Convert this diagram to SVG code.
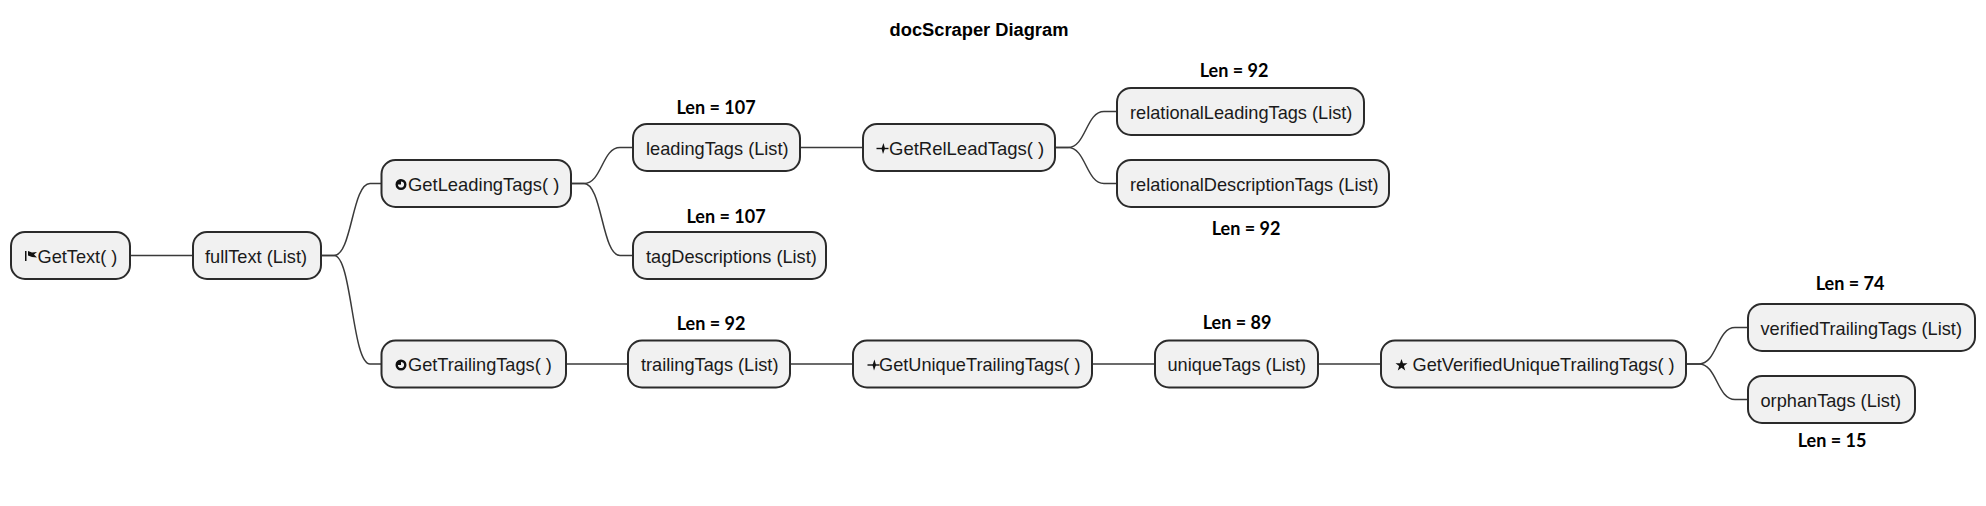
<svg xmlns="http://www.w3.org/2000/svg" width="1986" height="506" viewBox="0 0 1986 506">
<style>
.n{fill:#f1f1f1;stroke:#2b2b2b;stroke-width:2}
.t{font-family:"Liberation Sans",Arial,sans-serif;font-size:18.2px;fill:#1a1a1a}
.l{font-family:Lato,"Liberation Sans",sans-serif;font-size:18px;font-weight:700;fill:#000;text-anchor:middle}
.c{fill:none;stroke:#3a3a3a;stroke-width:1.5}
.i{fill:#111}
</style>
<defs>
<g id="clock"><circle cx="0" cy="0" r="4.300" fill="none" stroke="#111" stroke-width="2.400"/><path class="i" d="M0 0V-5A5 5 0 0 0 -5 0Z"/></g>
<g id="pulse"><path d="M0 0H12" fill="none" stroke="#111" stroke-width="1.400"/><path class="i" d="M7 -5.500L8.500 0L6.500 5.500L5 0Z"/></g>
</defs>
<rect width="1986" height="506" fill="#fff"/>
<text x="979" y="36" text-anchor="middle" style="font-family:'Liberation Sans',Arial,sans-serif;font-size:18.3px;font-weight:700" fill="#000">docScraper Diagram</text>
<g id="connectors">
<path class="c" d="M130 255.500H193"/>
<path class="c" d="M321 255.500H334C352 255.500 352 183.500 370 183.500H381"/>
<path class="c" d="M321 255.500H334C352 255.500 352 364 370 364H381"/>
<path class="c" d="M571 183.500H584C602 183.500 602 147.500 620 147.500H633"/>
<path class="c" d="M571 183.500H584C602 183.500 602 255.500 620 255.500H633"/>
<path class="c" d="M800 147.500H863"/>
<path class="c" d="M1055 147.500H1068C1086 147.500 1086 111.500 1104 111.500H1117"/>
<path class="c" d="M1055 147.500H1068C1086 147.500 1086 183.500 1104 183.500H1117"/>
<path class="c" d="M566 364H628"/>
<path class="c" d="M790 364H853"/>
<path class="c" d="M1092 364H1155"/>
<path class="c" d="M1318 364H1381"/>
<path class="c" d="M1686 364H1699C1717 364 1717 327.500 1735 327.500H1748"/>
<path class="c" d="M1686 364H1699C1717 364 1717 399.500 1735 399.500H1748"/>
</g>
<g id="GetText"><rect class="n" x="11" y="232" width="119" height="47" rx="14"/><path class="i" d="M25 251h1.500v10H25zM28 251l4 1.500 5-.500-3 2.500 3 3-5-.500-4-1.500z"/><text class="t" x="37.500" y="263">GetText( )</text></g>
<g id="fullText"><rect class="n" x="193" y="232" width="128" height="47" rx="14"/><text class="t" x="205" y="263">fullText (List)</text></g>
<g id="GetLeadingTags"><rect class="n" x="381.500" y="160" width="189.500" height="47" rx="14"/><use href="#clock" x="401" y="184.500"/><text class="t" x="408" y="191" style="font-size:18.4px">GetLeadingTags( )</text></g>
<g id="GetTrailingTags"><rect class="n" x="381.500" y="340.500" width="184.500" height="47" rx="14"/><use href="#clock" x="401" y="365"/><text class="t" x="408" y="371">GetTrailingTags( )</text></g>
<g id="leadingTags"><rect class="n" x="633" y="124" width="167" height="47" rx="14"/><text class="t" x="646" y="155">leadingTags (List)</text></g>
<g id="tagDescriptions"><rect class="n" x="633" y="232" width="193" height="47" rx="14"/><text class="t" x="646" y="263">tagDescriptions (List)</text></g>
<g id="GetRelLeadTags"><rect class="n" x="863" y="124" width="192" height="47" rx="14"/><use href="#pulse" x="876.500" y="148.500"/><text class="t" x="889" y="155" style="font-size:18.5px">GetRelLeadTags( )</text></g>
<g id="relationalLeadingTags"><rect class="n" x="1117" y="88" width="247" height="47" rx="14"/><text class="t" x="1130" y="119">relationalLeadingTags (List)</text></g>
<g id="relationalDescriptionTags"><rect class="n" x="1117" y="160" width="272" height="47" rx="14"/><text class="t" x="1130" y="191">relationalDescriptionTags (List)</text></g>
<g id="trailingTags"><rect class="n" x="628" y="340.500" width="162" height="47" rx="14"/><text class="t" x="641" y="371">trailingTags (List)</text></g>
<g id="GetUniqueTrailingTags"><rect class="n" x="853" y="340.500" width="239" height="47" rx="14"/><use href="#pulse" x="867.500" y="365"/><text class="t" x="879" y="371">GetUniqueTrailingTags( )</text></g>
<g id="uniqueTags"><rect class="n" x="1155" y="340.500" width="163" height="47" rx="14"/><text class="t" x="1167.500" y="371">uniqueTags (List)</text></g>
<g id="GetVerifiedUniqueTrailingTags"><rect class="n" x="1381" y="340.500" width="305" height="47" rx="14"/><polygon class="i" points="1401.500,359 1403,363.200 1407.500,363.200 1403.900,366 1405.200,370.500 1401.500,367.800 1397.800,370.500 1399.100,366 1395.500,363.200 1400,363.200"/><text class="t" x="1412.500" y="371">GetVerifiedUniqueTrailingTags( )</text></g>
<g id="verifiedTrailingTags"><rect class="n" x="1748" y="304" width="227" height="47" rx="14"/><text class="t" x="1760.500" y="335">verifiedTrailingTags (List)</text></g>
<g id="orphanTags"><rect class="n" x="1748" y="376" width="167" height="47" rx="14"/><text class="t" x="1760.500" y="407">orphanTags (List)</text></g>
<g id="labels">
<text class="l" x="716" y="113.500">Len = 107</text>
<text class="l" x="726" y="222.500">Len = 107</text>
<text class="l" x="1234" y="76.500">Len = 92</text>
<text class="l" x="1246" y="234.500">Len = 92</text>
<text class="l" x="711" y="329.500">Len = 92</text>
<text class="l" x="1237" y="328.500">Len = 89</text>
<text class="l" x="1850" y="289.500">Len = 74</text>
<text class="l" x="1832" y="446.500">Len = 15</text>
</g>
</svg>
